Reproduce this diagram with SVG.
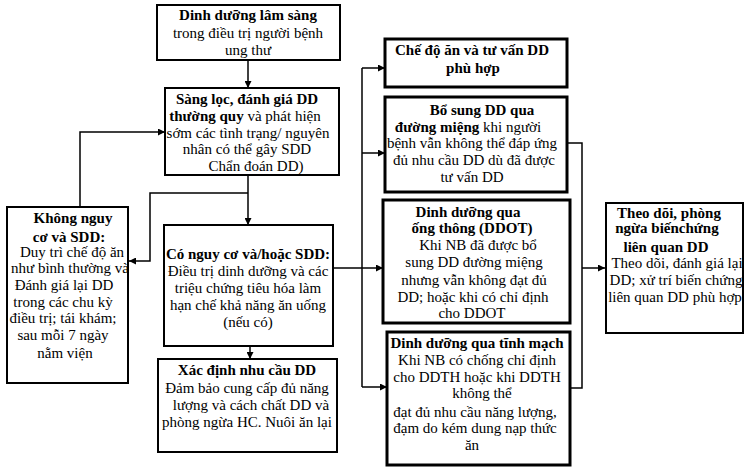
<svg xmlns="http://www.w3.org/2000/svg" width="750" height="471" viewBox="0 0 750 471">
<defs>
<marker id="ah" viewBox="0 0 10 10" refX="10" refY="5" markerWidth="7" markerHeight="7" markerUnits="userSpaceOnUse" orient="auto"><path d="M0,0 L10,5 L0,10 z" fill="#000"/></marker>
<style>
text{font-family:"Liberation Serif","Times New Roman",serif;font-size:15px;fill:#000;text-anchor:middle}
.b{font-weight:bold}
.box{fill:#fff;stroke:#000;stroke-width:2}
.thick{stroke-width:3}
.c{fill:none;stroke:#000;stroke-width:1.5}
.a{marker-end:url(#ah)}
</style>
</defs>
<rect width="750" height="471" fill="#fff"/>
<g id="connectors">
<path class="c a" d="M248,60 V88"/>
<path class="c a" d="M248,175 V225"/>
<path class="c a" d="M248,193 H150 V261 H129"/>
<path class="c a" d="M80,207 V132 H165"/>
<path class="c a" d="M250,346 V359"/>
<path class="c a" d="M333,268 H383"/>
<path class="c" d="M362,68 V387"/>
<path class="c a" d="M362,68 H385"/>
<path class="c a" d="M362,153 H385"/>
<path class="c a" d="M362,387 H387"/>
<path class="c" d="M567,143 H582 V388 H570"/>
<path class="c a" d="M582,268 H605"/>
</g>
<g id="n1">
<rect class="box" x="157" y="5" width="183" height="55" stroke-width="2.5"/>
<text x="248" y="20" class="b">Dinh dưỡng lâm sàng</text>
<text x="248" y="38">trong điều trị người bệnh</text>
<text x="248" y="55">ung thư</text>
</g>
<g id="n2">
<rect class="box" x="165" y="88" width="174" height="87"/>
<text x="247" y="104" class="b">Sàng lọc, đánh giá DD</text>
<text x="245" y="121"><tspan class="b">thường quy</tspan> và phát hiện</text>
<text x="248" y="138">sớm các tình trạng/ nguyên</text>
<text x="247" y="154">nhân có thể gây SDD</text>
<text x="256" y="171">Chẩn đoán DD)</text>
</g>
<g id="n3">
<rect class="box" x="7" y="207" width="121" height="176"/>
<text x="73" y="223" class="b">Không nguy</text>
<text x="69" y="242" class="b">cơ và SDD:</text>
<text x="72" y="257">Duy trì chế độ ăn</text>
<text x="70" y="273">như bình thường và</text>
<text x="64" y="290">Đánh giá lại DD</text>
<text x="63" y="307">trong các chu kỳ</text>
<text x="63" y="323">điều trị; tái khám;</text>
<text x="63" y="340">sau mỗi 7 ngày</text>
<text x="65" y="358">nằm viện</text>
</g>
<g id="n4">
<rect class="box" x="164" y="225" width="169" height="121"/>
<text x="248" y="259" class="b">Có nguy cơ và/hoặc SDD:</text>
<text x="248" y="276">Điều trị dinh dưỡng và các</text>
<text x="248" y="293">triệu chứng tiêu hóa làm</text>
<text x="248" y="310">hạn chế khả năng ăn uống</text>
<text x="248" y="327">(nếu có)</text>
</g>
<g id="n5">
<rect class="box" x="158" y="359" width="179" height="93"/>
<text x="247" y="375" class="b">Xác định nhu cầu DD</text>
<text x="247" y="393">Đảm bảo cung cấp đủ năng</text>
<text x="251" y="410">lượng và cách chất DD và</text>
<text x="247" y="427">phòng ngừa HC. Nuôi ăn lại</text>
</g>
<g id="n6">
<rect class="box thick" x="385" y="39" width="182" height="48"/>
<text x="472" y="55" class="b">Chế độ ăn và tư vấn DD</text>
<text x="473" y="73" class="b">phù hợp</text>
</g>
<g id="n7">
<rect class="box thick" x="385" y="97" width="182" height="95"/>
<text x="482" y="115" class="b">Bổ sung DD qua</text>
<text x="468" y="132"><tspan class="b">đường miệng</tspan> khi người</text>
<text x="472" y="148">bệnh vẫn không thể đáp ứng</text>
<text x="474" y="165">đủ nhu cầu DD dù đã được</text>
<text x="472" y="182">tư vấn DD</text>
</g>
<g id="n8">
<rect class="box thick" x="383" y="200" width="187" height="123"/>
<text x="468" y="217" class="b">Dinh dưỡng qua</text>
<text x="472" y="233" class="b">ống thông (DDOT)</text>
<text x="478" y="250">Khi NB đã được bổ</text>
<text x="474" y="267">sung DD đường miệng</text>
<text x="474" y="285">nhưng vẫn không đạt đủ</text>
<text x="473" y="302">DD; hoặc khi có chỉ định</text>
<text x="472" y="318">cho DDOT</text>
</g>
<g id="n9">
<rect class="box thick" x="387" y="332" width="183" height="133"/>
<text x="477" y="348" class="b">Dinh dưỡng qua tĩnh mạch</text>
<text x="477" y="365">Khi NB có chống chỉ định</text>
<text x="477" y="382">cho DDTH hoặc khi DDTH</text>
<text x="482" y="398">không thể</text>
<text x="475" y="417">đạt đủ nhu cầu năng lượng,</text>
<text x="475" y="433">đạm do kém dung nạp thức</text>
<text x="472" y="450">ăn</text>
</g>
<g id="n10">
<rect class="box" x="606" y="203" width="137" height="130"/>
<text x="669" y="218" class="b">Theo dõi, phòng</text>
<text x="667" y="233" class="b">ngừa biếnchứng</text>
<text x="666" y="252" class="b">liên quan DD</text>
<text x="677" y="268">Theo dõi, đánh giá lại</text>
<text x="676" y="285">DD; xử trí biến chứng</text>
<text x="675" y="302">liên quan DD phù hợp</text>
</g>
</svg>
